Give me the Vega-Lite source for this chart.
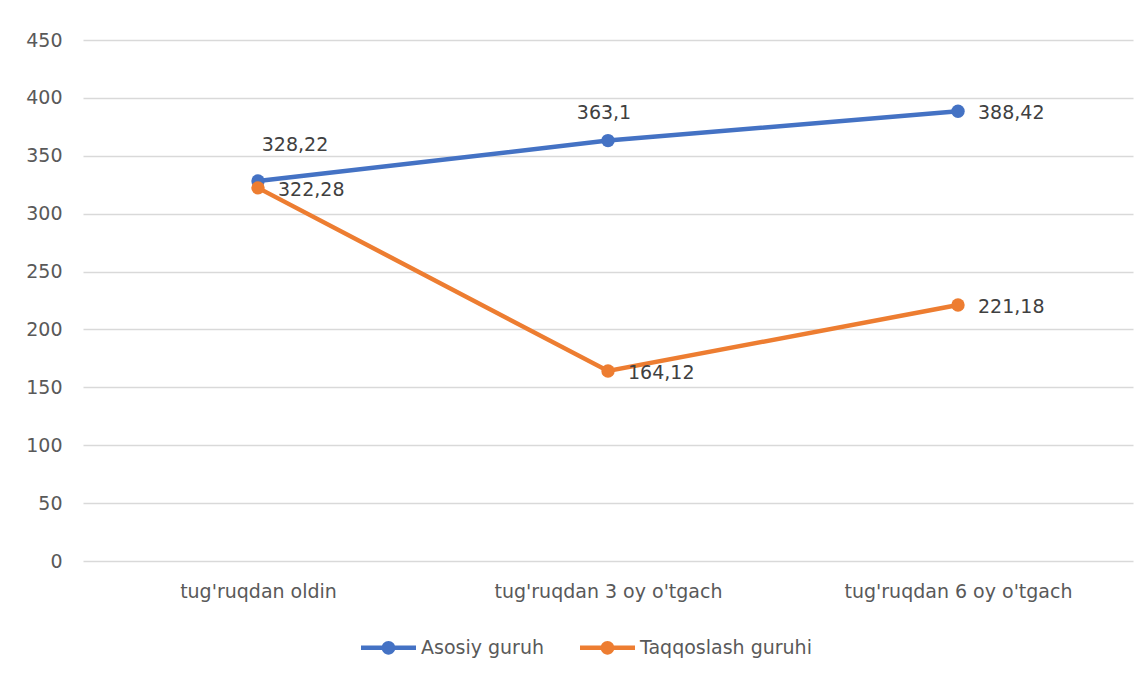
{
  "$schema": "https://vega.github.io/schema/vega-lite/v6.json",
  "width": 1050,
  "height": 521,
  "autosize": {"type": "none"},
  "padding": {"left": 83, "top": 40, "right": 15, "bottom": 116},
  "background": "white",
  "config": {
    "view": {"stroke": null},
    "font": "DejaVu Sans",
    "locale": {"number": {"decimal": ",", "thousands": " ", "grouping": [3], "currency": ["", ""]}}
  },
  "data": {
    "values": [
      {"stage": "tug'ruqdan oldin", "group": "Asosiy guruh", "value": 328.22},
      {"stage": "tug'ruqdan 3 oy o'tgach", "group": "Asosiy guruh", "value": 363.1},
      {"stage": "tug'ruqdan 6 oy o'tgach", "group": "Asosiy guruh", "value": 388.42},
      {"stage": "tug'ruqdan oldin", "group": "Taqqoslash guruhi", "value": 322.28},
      {"stage": "tug'ruqdan 3 oy o'tgach", "group": "Taqqoslash guruhi", "value": 164.12},
      {"stage": "tug'ruqdan 6 oy o'tgach", "group": "Taqqoslash guruhi", "value": 221.18}
    ]
  },
  "encoding": {
    "x": {
      "field": "stage", "type": "ordinal",
      "sort": ["tug'ruqdan oldin", "tug'ruqdan 3 oy o'tgach", "tug'ruqdan 6 oy o'tgach"],
      "scale": {"type": "point", "padding": 0.5},
      "axis": {"title": null, "labelAngle": 0, "domain": false, "ticks": false, "grid": false, "labelLimit": 0,
               "labelFontSize": 19, "labelColor": "#595959", "labelPadding": 21, "labelFont": "DejaVu Sans"}
    },
    "y": {
      "field": "value", "type": "quantitative",
      "scale": {"domain": [0, 450], "nice": false},
      "axis": {"title": null, "values": [0, 50, 100, 150, 200, 250, 300, 350, 400, 450],
               "domain": false, "ticks": false, "labelPadding": 21, "labelFontSize": 19,
               "labelColor": "#595959", "gridColor": "#D9D9D9", "gridWidth": 1.3, "labelFont": "DejaVu Sans"}
    },
    "color": {
      "field": "group", "type": "nominal",
      "scale": {"domain": ["Asosiy guruh", "Taqqoslash guruhi"], "range": ["#4472C4", "#ED7D31"]},
      "legend": {
        "title": null, "orient": "none", "direction": "horizontal",
        "legendX": 278, "legendY": 580, "padding": 0, "labelLimit": 0,
        "symbolType": "M-1,-0.08L1,-0.08L1,0.08L-1,0.08Z M-0.25,0A0.25,0.25,0,1,1,0.25,0A0.25,0.25,0,1,1,-0.25,0Z",
        "symbolSize": 3025, "symbolStrokeWidth": 0,
        "labelFontSize": 19, "labelColor": "#595959", "labelFont": "DejaVu Sans",
        "labelOffset": 5, "columnPadding": 36,
        "encode": {"symbols": {"update": {"fill": {"scale": "color", "field": "value"}, "fillOpacity": {"value": 1}, "strokeWidth": {"value": 0}}}}
      }
    }
  },
  "layer": [
    {"mark": {"type": "line", "strokeWidth": 4.5}},
    {"mark": {"type": "point", "filled": true, "size": 180, "opacity": 1}},
    {
      "transform": [{"filter": {"and": [{"field": "group", "equal": "Asosiy guruh"}, {"field": "stage", "equal": "tug'ruqdan oldin"}]}}],
      "mark": {"type": "text", "align": "center", "baseline": "middle", "dx": 37, "dy": -36, "fontSize": 19},
      "encoding": {"text": {"field": "value", "type": "quantitative", "format": "~g"}, "color": {"value": "#404040"}}
    },
    {
      "transform": [{"filter": {"and": [{"field": "group", "equal": "Asosiy guruh"}, {"field": "stage", "equal": "tug'ruqdan 3 oy o'tgach"}]}}],
      "mark": {"type": "text", "align": "center", "baseline": "middle", "dx": -4, "dy": -28, "fontSize": 19},
      "encoding": {"text": {"field": "value", "type": "quantitative", "format": "~g"}, "color": {"value": "#404040"}}
    },
    {
      "transform": [{"filter": {"or": [{"field": "group", "equal": "Taqqoslash guruhi"}, {"field": "stage", "equal": "tug'ruqdan 6 oy o'tgach"}]}}],
      "mark": {"type": "text", "align": "left", "baseline": "middle", "dx": 20, "dy": 2, "fontSize": 19},
      "encoding": {"text": {"field": "value", "type": "quantitative", "format": "~g"}, "color": {"value": "#404040"}}
    }
  ]
}
